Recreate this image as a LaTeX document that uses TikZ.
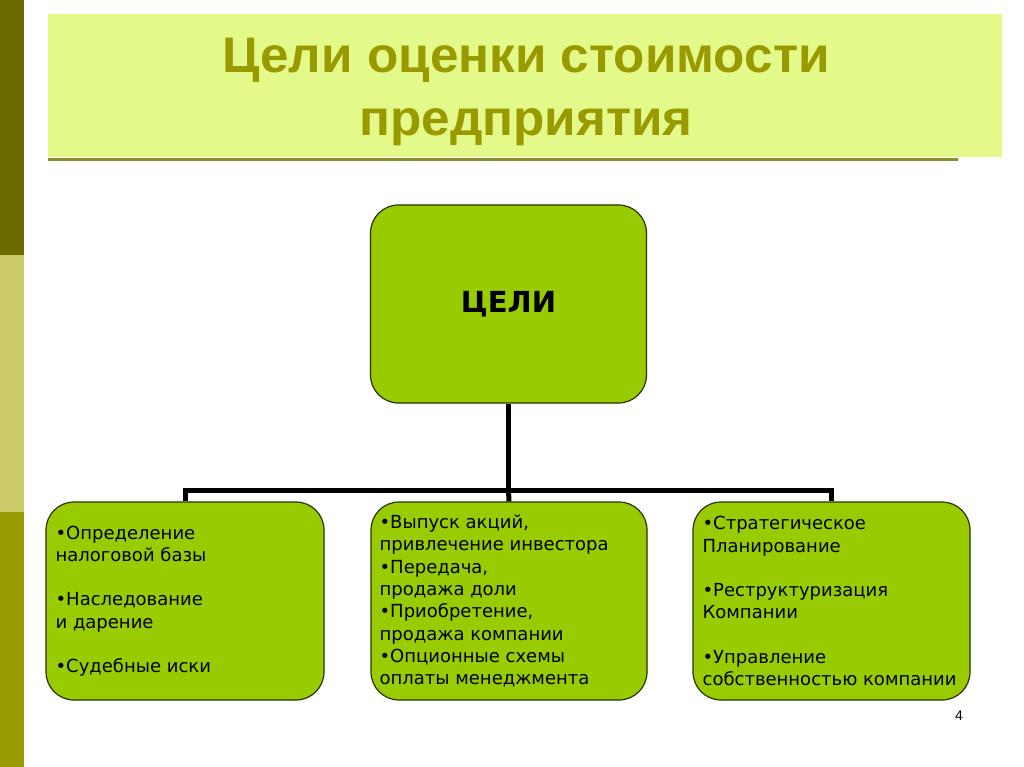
\documentclass[tikz,border=0pt]{standalone}
\usepackage{fontspec}
\setmainfont{DejaVu Sans}
\newfontfamily\titlefont{Liberation Sans}
\definecolor{barA}{HTML}{6B6B00}
\definecolor{barB}{HTML}{CBCB68}
\definecolor{barC}{HTML}{999900}
\definecolor{titlebg}{HTML}{E3FA8A}
\definecolor{titlefg}{HTML}{999900}
\definecolor{rule}{HTML}{8C8C30}
\definecolor{boxgreen}{HTML}{99CC00}
\definecolor{boxline}{HTML}{2A3300}
\begin{document}
\begin{tikzpicture}[x=1pt,y=-1pt,
  goalbox/.style={draw=boxline, line width=1.2pt, fill=boxgreen, rounded corners=28pt,
    minimum height=198pt, inner sep=0pt},
  boxtext/.style={align=left, inner sep=0pt, anchor=west,
    font=\fontsize{18}{22.3}\selectfont},
  conn/.style={line width=5pt, draw=black},
  titletext/.style={anchor=base, inner sep=0pt, text=titlefg,
    font=\titlefont\bfseries\fontsize{50}{60}\selectfont}]
\useasboundingbox (0,0) rectangle (1024,767);
\fill[white] (0,0) rectangle (1024,767);
% left bars
\fill[barA] (0,0) rectangle (24,255);
\fill[barB] (0,255) rectangle (24,512);
\fill[barC] (0,512) rectangle (24,767);
% title
\fill[titlebg] (48,14) rectangle (1002,157);
\draw[rule, line width=3pt] (48,160) -- (958,160);
\node[titletext] (title1) at (526,73) {\scalebox{1.025}[1]{Цели оценки стоимости}};
\node[titletext] (title2) at (526,136) {\scalebox{1.025}[1]{предприятия}};
% boxes
\node[goalbox, minimum width=276pt, font=\bfseries\fontsize{29}{34}\selectfont] (top) at (508.5,304) {ЦЕЛИ};
\node[goalbox, minimum width=278pt] (left) at (185,601) {};
\node[goalbox, minimum width=276pt] (mid) at (509,601) {};
\node[goalbox, minimum width=277pt] (right) at (831.5,601) {};
% connectors
\coordinate (hub) at (508.5,490);
\draw[conn] (top.south) -- (hub);
\draw[conn] (hub) -| (left.north);
\draw[conn] (hub) -| (right.north);
\draw[conn] (hub) -- (mid.north);
% texts
\node[boxtext] (lefttext) at ([xshift=10pt]left.west)
  {•Определение\\налоговой базы\\[22pt]•Наследование\\и дарение\\[22pt]•Судебные иски};
\node[boxtext] (midtext) at ([xshift=9pt]mid.west)
  {•Выпуск акций,\\привлечение инвестора\\•Передача,\\продажа доли\\•Приобретение,\\продажа компании\\•Опционные схемы\\оплаты менеджмента};
\node[boxtext] (righttext) at ([xshift=10pt]right.west)
  {•Стратегическое\\Планирование\\[22pt]•Реструктуризация\\Компании\\[22pt]•Управление\\собственностью компании};
\node[font=\titlefont\fontsize{14}{16}\selectfont] (pagenum) at (959,716) {4};
\end{tikzpicture}
\end{document}
